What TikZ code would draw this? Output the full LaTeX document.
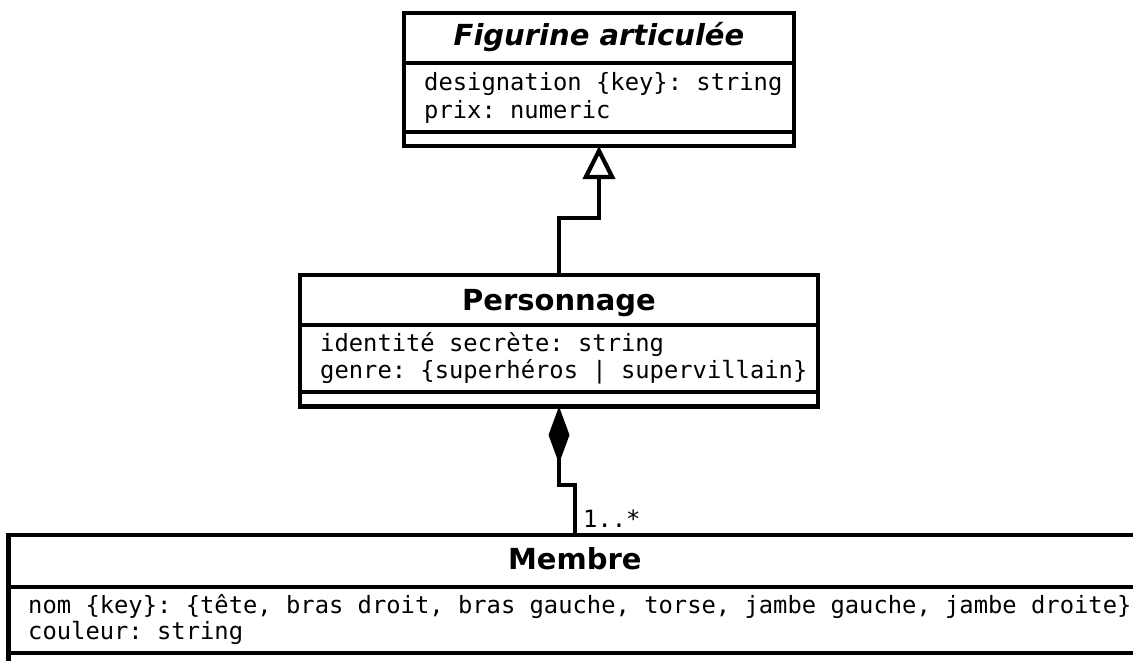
\documentclass[tikz,border=0pt]{standalone}
\usepackage{fontspec}
\setmainfont{DejaVu Sans}
\newfontfamily\attrfont{DejaVu Sans Mono}
\usetikzlibrary{arrows.meta}
\begin{document}
\begin{tikzpicture}[x=1pt,y=-1pt,
  compart/.style={draw, line width=4.2pt, fill=white, rectangle, inner sep=0pt,
    outer sep=0pt, anchor=north west},
  classname/.style={anchor=base, inner sep=0pt,
    font=\fontsize{29}{34}\selectfont\bfseries},
  attr/.style={anchor=base west, inner sep=0pt,
    font=\attrfont\fontsize{23.8}{27}\selectfont\frenchspacing},
  link/.style={line width=4.2pt, line join=miter}
]
% page frame
\useasboundingbox (0,0) rectangle (1133,661);
\fill[white] (0,0) rectangle (1133,661);
\clip (0,0) rectangle (1133,661);

% class Figurine articulée
\node[compart, minimum width=390pt, minimum height=50pt] (figT) at (404,13) {};
\node[compart, minimum width=390pt, minimum height=69pt] (figA) at (404,63) {};
\node[compart, minimum width=390pt, minimum height=14pt] (figO) at (404,132) {};
\node[classname, font=\fontsize{29}{34}\selectfont\bfseries\itshape] (figName) at (599,46) {Figurine articulée};
\node[attr] (figA1) at (424,91) {designation \{key\}: string};
\node[attr] (figA2) at (424,118.5) {prix: numeric};

% class Personnage
\node[compart, minimum width=518pt, minimum height=50pt] (persT) at (300,275) {};
\node[compart, minimum width=518pt, minimum height=67pt] (persA) at (300,325) {};
\node[compart, minimum width=518pt, minimum height=14.5pt] (persO) at (300,392) {};
\node[classname] (persName) at (559,310) {Personnage};
\node[attr] (persA1) at (320,351) {identité secrète: string};
\node[attr] (persA2) at (320,378) {genre: \{superhéros | supervillain\}};

% class Membre
\node[compart, minimum width=1132.5pt, minimum height=52pt] (memT) at (8.5,535) {};
\node[compart, minimum width=1132.5pt, minimum height=66pt] (memA) at (8.5,587) {};
\node[compart, minimum width=1132.5pt, minimum height=14pt] (memO) at (8.5,653) {};
\node[classname] (memName) at (574.75,569) {Membre};
\node[attr] (memA1) at (28,613) {nom \{key\}: \{tête, bras droit, bras gauche, torse, jambe gauche, jambe droite\}};
\node[attr] (memA2) at (28,639) {couleur: string};

% generalization Personnage -> Figurine articulée
\draw[link, -{Triangle[open, length=33pt, width=32pt]}]
  (persT.north) -- ++(0,-57) -| (figO.south);

% composition Personnage <>-- Membre
\draw[link, {Diamond[length=57pt, width=21pt]}-]
  (persO.south) -- ++(0,78.5) -| (memT.north);
\node[attr] (mult) at (583,527) {1..*};
\end{tikzpicture}
\end{document}
